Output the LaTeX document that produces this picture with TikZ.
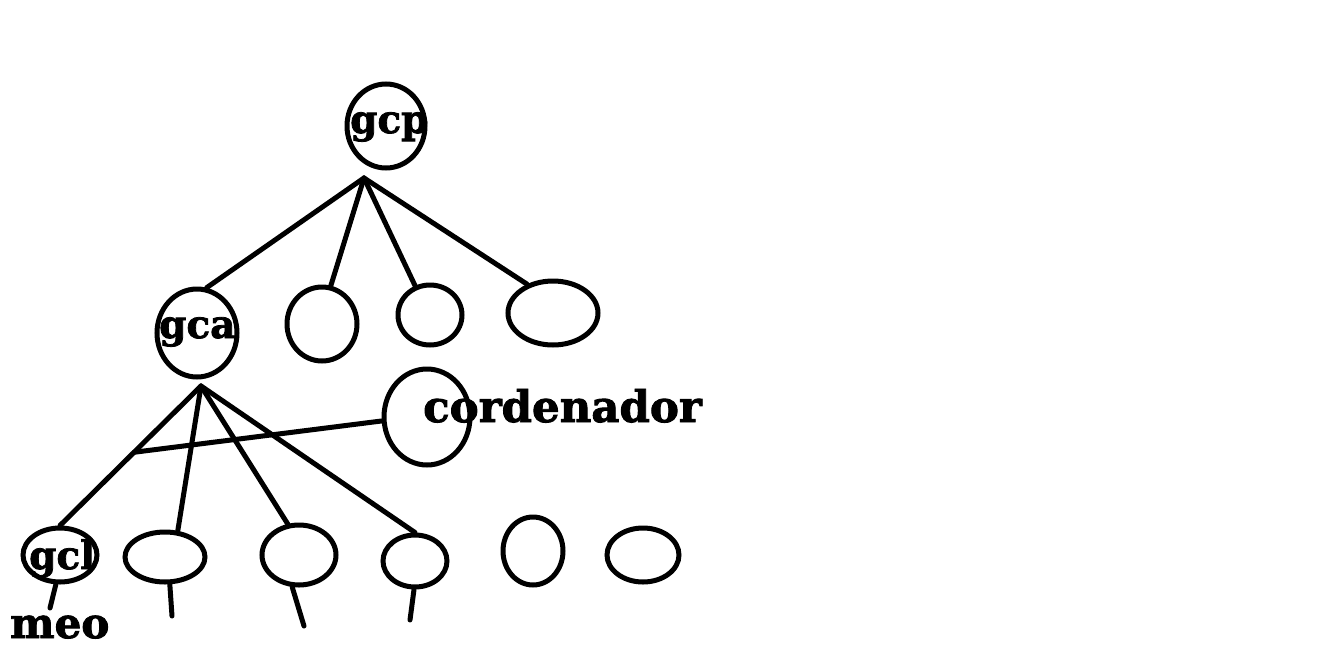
\documentclass[tikz,border=0pt]{standalone}
\usepackage{fontspec}
\setmainfont{DejaVu Serif}
\newfontfamily\fatfont[FakeBold=2]{DejaVu Serif Bold}
\usetikzlibrary{shapes.geometric,calc}
\tikzset{
  ell/.style={draw=black, line width=5pt, ellipse, inner sep=0pt},
  conn/.style={draw=black, line width=5pt, line cap=round},
  lbl/.style={inner sep=0pt, anchor=base west, font=\fatfont\fontsize{39}{41}\selectfont},
}
\begin{document}
\begin{tikzpicture}[x=1pt,y=-1pt]
\useasboundingbox[fill=white] (0,0) rectangle (1323,667);
% top
\node[ell, minimum width=78pt, minimum height=84pt] (gcp) at (386,126) {};
\coordinate (gcpfoot) at (364,178);
% middle row
\node[ell, minimum width=80pt, minimum height=88pt] (gca) at (197,333) {};
\node[ell, minimum width=70pt, minimum height=74pt] (m2) at (322,324) {};
\node[ell, minimum width=64pt, minimum height=60pt] (m3) at (430,315) {};
\node[ell, minimum width=90pt, minimum height=64pt] (m4) at (553,313) {};
\node[ell, minimum width=86pt, minimum height=96pt] (cord) at (427,417) {};
\coordinate (gcafoot) at (201,386);
% bottom row
\node[ell, minimum width=74pt, minimum height=54pt] (gcl) at (60,555) {};
\node[ell, minimum width=80pt, minimum height=50pt] (b2) at (165,557) {};
\node[ell, minimum width=74pt, minimum height=60pt] (b3) at (299,555) {};
\node[ell, minimum width=64pt, minimum height=52pt] (b4) at (415,561) {};
\node[ell, minimum width=60pt, minimum height=68pt] (b5) at (533,551) {};
\node[ell, minimum width=72pt, minimum height=54pt] (b6) at (643,555) {};
% stub ends
\coordinate (s1) at (50,608);
\coordinate (s2) at (172,616);
\coordinate (s3) at (304,626);
\coordinate (s4) at (410,620);
% connectors
\draw[conn] (gcpfoot) -- (gca.78);
\draw[conn] (gcpfoot) -- (m2.77);
\draw[conn] (gcpfoot) -- (m3.117);
\draw[conn] (gcpfoot) -- (m4.132);
\draw[conn] (gcafoot) -- (gcl.90);
\draw[conn] (gcafoot) -- (b2.64);
\draw[conn] (gcafoot) -- (b3.110);
\draw[conn] (gcafoot) -- (b4.90);
\coordinate (cross) at ($(gcafoot)!0.475!(gcl.90)$);
\draw[conn] (cross) -- (cord.185);
\draw[conn] (gcl.262) -- (s1);
\draw[conn] (b2.280) -- (s2);
\draw[conn] (b3.258) -- (s3);
\draw[conn] (b4.268) -- (s4);
% labels
\node[lbl] (tgcp) at (350,133) {gcp};
\node[lbl] (tgca) at (159,338) {gca};
\node[lbl] (tgcl) at (29,569) {gcl};
\node[lbl, font=\fatfont\fontsize{42}{44}\selectfont] (tmeo) at (10,638) {meo};
\node[lbl, font=\fatfont\fontsize{43.5}{45}\selectfont] (tcord) at (423,422) {cordenador};
\end{tikzpicture}
\end{document}
